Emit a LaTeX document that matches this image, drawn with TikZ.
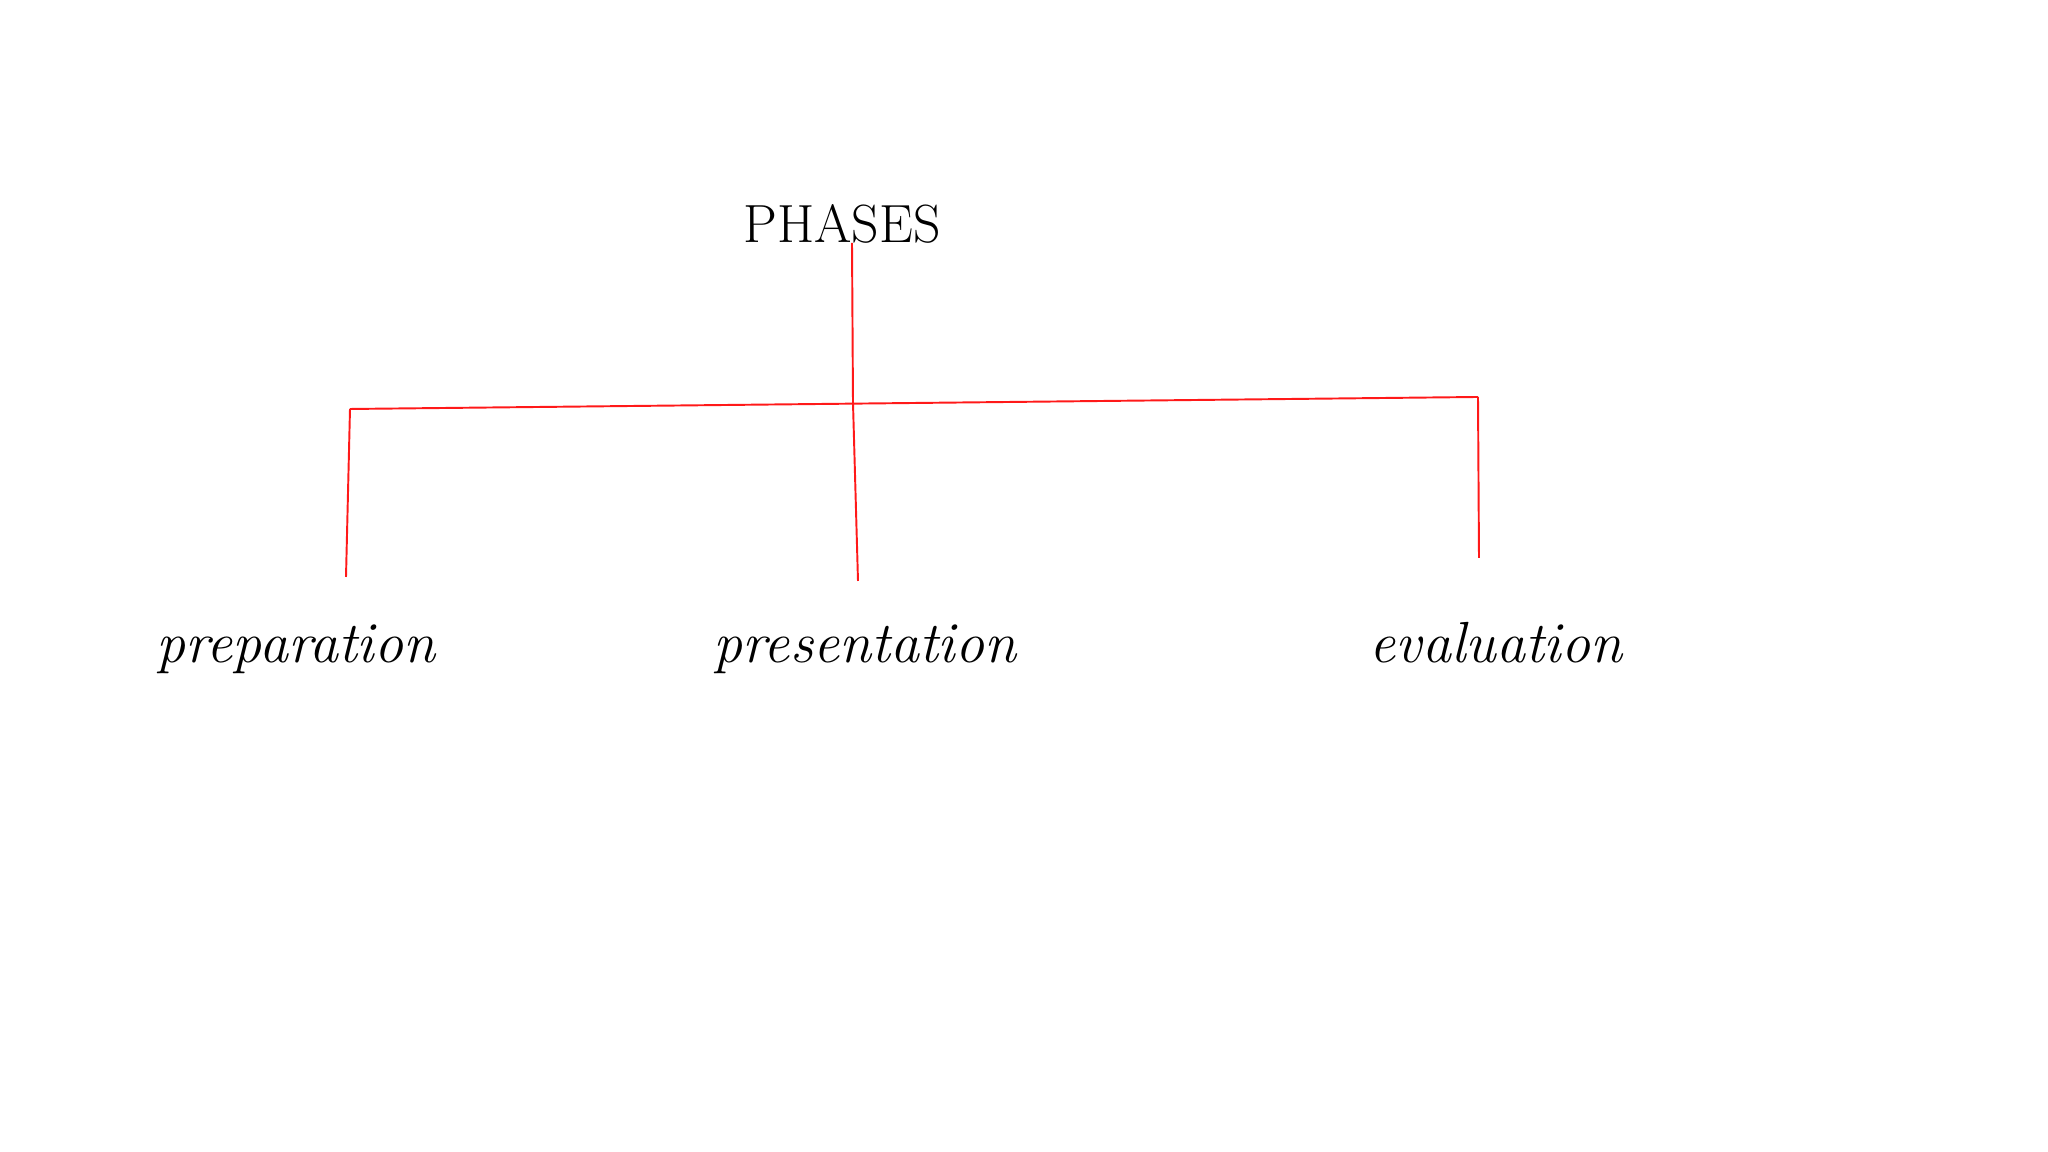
\documentclass[tikz,border=0pt]{standalone}
\begin{document}
\begin{tikzpicture}
  % \draw[help lines] (0,0) grid (20, 11);
  \useasboundingbox (0, 0) rectangle (20.48, 11.52);
  \tikzset{branch/.style={red!90!white, line width=0.55pt}}
  \node at (8.42, 9.09) [anchor=base, font=\fontsize{15.3}{18}\selectfont] (phases) {PHASES};
  \node at (2.96, 4.89) [anchor=base, font=\fontsize{16.5}{20}\selectfont\itshape] (prep) {preparation};
  \node at (8.65, 4.89) [anchor=base, font=\fontsize{16.5}{20}\selectfont\itshape] (pres) {presentation};
  \node at (14.96, 4.89) [anchor=base, font=\fontsize{16.5}{20}\selectfont\itshape] (eval) {evaluation};
  \coordinate (top) at (8.52, 9.09);
  \coordinate (jl) at (3.50, 7.43);
  \coordinate (jm) at (8.53, 7.49);
  \coordinate (jr) at (14.78, 7.55);
  \coordinate (el) at (3.46, 5.75);
  \coordinate (em) at (8.58, 5.71);
  \coordinate (er) at (14.79, 5.94);

  \draw[branch] (top) -- (jm);
  \draw[branch] (jl) -- (jr);
  \draw[branch] (jl) -- (el);
  \draw[branch] (jm) -- (em);
  \draw[branch] (jr) -- (er);
\end{tikzpicture}
\end{document}
